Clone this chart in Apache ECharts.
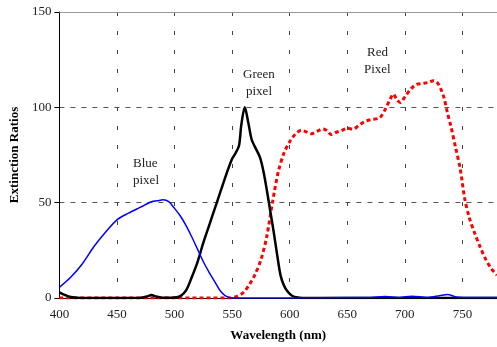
<!DOCTYPE html>
<html><head><meta charset="utf-8">
<script src="https://cdn.jsdelivr.net/npm/echarts@6/dist/echarts.min.js"></script>
<style>html,body{margin:0;padding:0;background:#fff}#c{width:497px;height:347px}</style>
</head><body><div id="c"></div>
<script>
const xTicks = [400, 450, 500, 550, 600, 650, 700, 750];
const yTicks = [0, 50, 100, 150];

const blueNm  = [400,410,420,430,440,450,460,470,480,485,490,495,500,505,510,515,520,525,530,535,540,545,550,560,600,650,670,683,695,706,720,730,737,745,760,780];
const blueVal = [5.6,11,18,27,34.5,41,44.5,47.5,50.5,51,51.5,50.5,47,43,38,32,25.5,19,13.5,8.5,3.5,0.8,0,0,0,0.2,0.3,0.8,0.3,0.9,0.3,1.2,1.9,0.5,0.2,0.2];

const greenNm  = [400,405,410,420,470,476,480,484,490,500,505,510,515,520,525,530,535,540,545,550,553,556,558,561,564,567,570,574,577,580,583,586,589,592,595,598,602,607,615,780];
const greenVal = [3,1.5,0.5,0,0.1,0.8,1.6,0.8,0.1,0.3,1,4,11,19,29,38,47,56,65,73,76,80,91,100,92,83,79,74,67,57,46,35,23,12,6.5,3.5,1.2,0.3,0,0];

const redNm  = [400,548,555,560,565,570,575,580,585,590,595,600,605,610,615,619,624,629,633,636,640,645,650,655,660,665,670,678,683,687,690,693,696,700,705,710,715,720,725,728,731,734,737,740,744,748,752,756,760,765,770,775,780];
const redVal = [0,0,1,3,7,12.5,20,32,50,66,76,82,86,88,87,86.2,87.5,88.7,87.5,85.7,86.8,87.8,89,88.6,90.5,92.5,93.5,94.5,99,104,107,104,102.5,105.5,109.5,112,112.5,113,114,113,110,105,97,90,79,68,52,42,35,27.3,20.5,15.5,12];

const pairs = (xs, ys) => xs.map((x, i) => [x, ys[i]]);
const serif = 'Liberation Serif, Times New Roman, serif';

const chart = echarts.init(document.getElementById('c'));
chart.setOption({
  animation: false,
  grid: { left: 58, right: -2, top: 12, bottom: 46 },
  xAxis: [{
    type: 'value', min: 400, max: 780, interval: 50,
    name: 'Wavelength (nm)', nameLocation: 'middle', nameGap: 31,
    nameTextStyle: { fontFamily: serif, fontWeight: 'bold', fontSize: 13, color: '#000' },
    axisLine: { show: true, lineStyle: { color: '#000', width: 1 } },
    axisTick: { show: false },
    axisLabel: { fontFamily: serif, fontSize: 13, color: '#222', margin: 10, showMaxLabel: false,
      formatter: v => xTicks.includes(v) ? String(v) : '' },
    splitLine: { show: true, lineStyle: { color: '#444', type: [4, 15], width: 1 } }
  }, {
    type: 'value', min: 400, max: 780, position: 'top',
    axisLine: { show: true, onZero: false, lineStyle: { color: '#999', width: 1 } },
    axisTick: { show: false }, axisLabel: { show: false }, splitLine: { show: false }
  }],
  yAxis: {
    type: 'value', min: 0, max: 150, interval: 50,
    name: 'Extinction Ratios', nameLocation: 'middle', nameGap: 33, nameRotate: 90,
    nameTextStyle: { fontFamily: serif, fontWeight: 'bold', fontSize: 13, color: '#000' },
    axisLine: { show: true, lineStyle: { color: '#000', width: 1 } },
    axisTick: { show: true, length: 5, lineStyle: { color: '#000' } },
    axisLabel: { fontFamily: serif, fontSize: 13, color: '#222', margin: 8,
      formatter: v => yTicks.includes(v) ? String(v) : '' },
    splitLine: { show: true, lineStyle: { color: '#555', type: [5, 6], width: 1 } }
  },
  graphic: [
    { type: 'text', left: 133, top: 157, style: { text: 'Blue', font: '13px ' + serif, fill: '#222' } },
    { type: 'text', left: 133, top: 174, style: { text: 'pixel', font: '13px ' + serif, fill: '#222' } },
    { type: 'text', left: 243, top: 68, style: { text: 'Green', font: '13px ' + serif, fill: '#222' } },
    { type: 'text', left: 246, top: 85, style: { text: 'pixel', font: '13px ' + serif, fill: '#222' } },
    { type: 'text', left: 367, top: 46, style: { text: 'Red', font: '13px ' + serif, fill: '#222' } },
    { type: 'text', left: 364, top: 63, style: { text: 'Pixel', font: '13px ' + serif, fill: '#222' } }
  ],
  series: [
    { type: 'line', name: 'Red', data: pairs(redNm, redVal), smooth: 0.3, symbol: 'none', z: 3,
      lineStyle: { color: '#ff0000', width: 3, type: [4, 3] } },
    { type: 'line', name: 'Green', data: pairs(greenNm, greenVal), smooth: 0.3, symbol: 'none', z: 4,
      lineStyle: { color: '#000', width: 2.5 } },
    { type: 'line', name: 'Blue', data: pairs(blueNm, blueVal), smooth: 0.3, symbol: 'none', z: 5,
      lineStyle: { color: '#0000ff', width: 1.5 } }
  ]
});
</script></body></html>
